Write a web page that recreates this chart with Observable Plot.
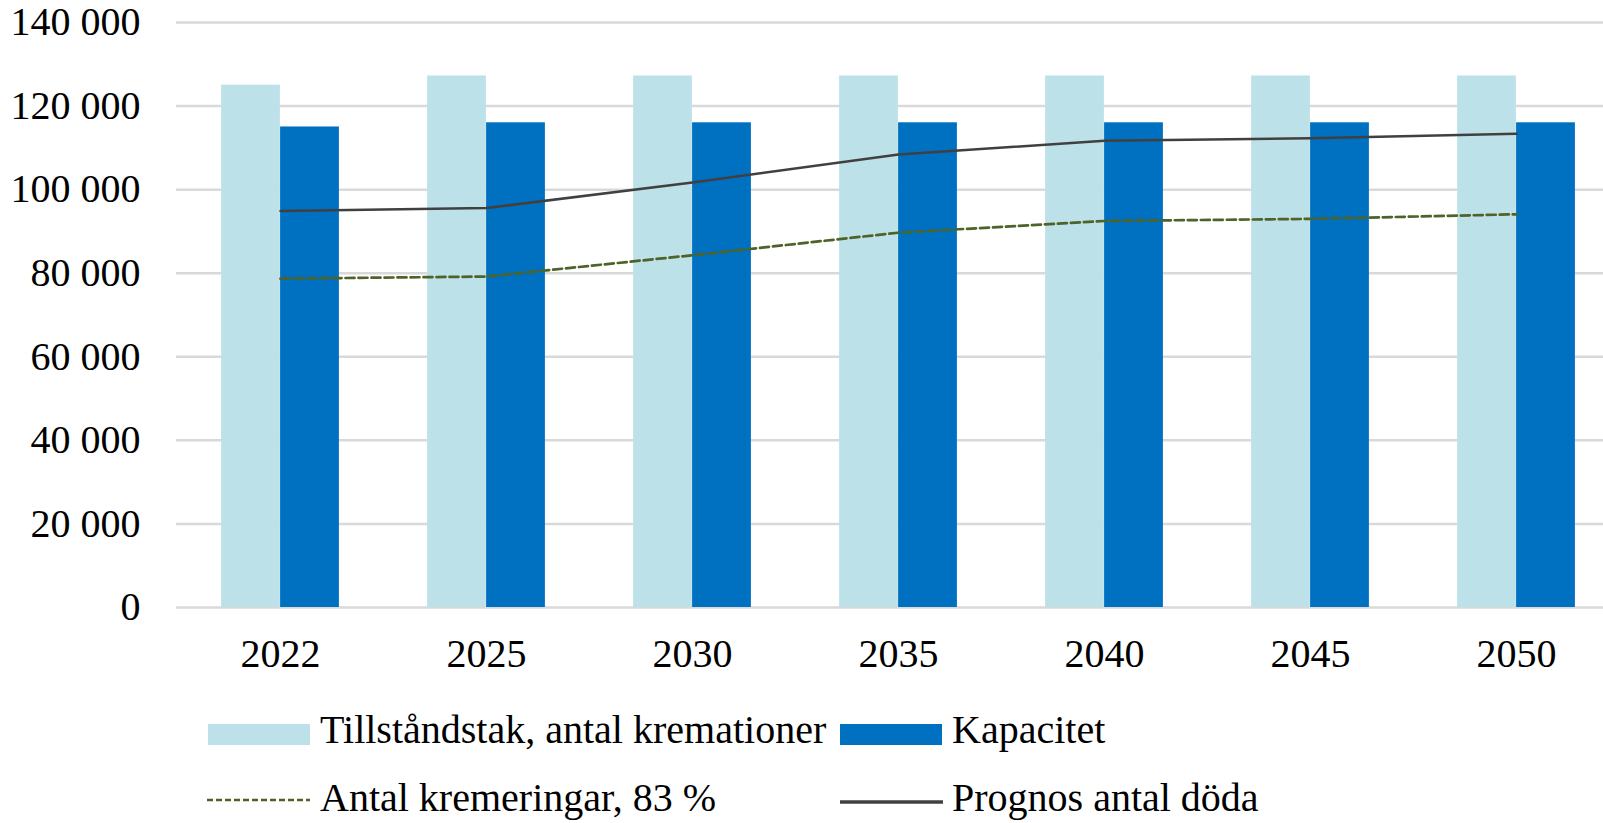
<!DOCTYPE html>
<html>
<head>
<meta charset="utf-8">
<script src="https://cdn.jsdelivr.net/npm/d3@7"></script>
<script src="https://cdn.jsdelivr.net/npm/@observablehq/plot@0.6"></script>
<style>
  html, body { margin: 0; padding: 0; background: #fff; overflow: hidden; }
  #wrap { position: relative; width: 1603px; height: 823px; font-family: "Liberation Serif", "Times New Roman", serif; color: #000; }
  .lg { position: absolute; font-size: 40px; line-height: 1; white-space: nowrap; }
  .sw { position: absolute; }
</style>
</head>
<body>
<div id="wrap"></div>
<script>
const years = ["2022", "2025", "2030", "2035", "2040", "2045", "2050"];
const tillstand = [125000, 127200, 127200, 127200, 127200, 127200, 127200];
const kapacitet = [115000, 116000, 116000, 116000, 116000, 116000, 116000];
const prognos = [94900, 95600, 101700, 108400, 111700, 112300, 113400];
const kremeringar = [78700, 79200, 84300, 89700, 92500, 93000, 94100];
const yTicks = [0, 20000, 40000, 60000, 80000, 100000, 120000, 140000];

const seriesNames = ["Tillståndstak, antal kremationer", "Kapacitet", "Antal kremeringar, 83 %", "Prognos antal döda"];
const colors = ["#bde1e9", "#0070c0", "#4f6228", "#404040"];

const rows = years.map((y, i) => ({year: y, tillstand: tillstand[i], kapacitet: kapacitet[i], prognos: prognos[i], kremeringar: kremeringar[i]}));

const fmt = d => d3.format(",")(d).replace(/,/g, " ");

const FS = 40;

const chart = Plot.plot({
  width: 1603,
  height: 700,
  marginLeft: 176,
  marginRight: 0,
  marginTop: 22,
  marginBottom: 93,
  style: {fontFamily: "'Liberation Serif', 'Times New Roman', serif", fontSize: FS + "px", color: "#000", background: "#fff"},
  x: {type: "band", domain: years, range: [175.6, 1619.4], padding: 0, label: null, tickSize: 0, tickPadding: 31},
  y: {domain: [0, 140000], ticks: yTicks, tickFormat: fmt, label: null, tickSize: 0, tickPadding: 36},
  marks: [
    Plot.gridY(yTicks, {stroke: "#d9d9d9", strokeOpacity: 1, strokeWidth: 2.5}),
    Plot.barY(rows, {x: "year", y: "tillstand", fill: colors[0], insetLeft: 44.1, insetRight: 103.1}),
    Plot.barY(rows, {x: "year", y: "kapacitet", fill: colors[1], insetLeft: 103.1, insetRight: 44.1}),
    Plot.line(rows, {x: "year", y: "kremeringar", stroke: colors[2], strokeWidth: 2.7, strokeDasharray: "9,4"}),
    Plot.line(rows, {x: "year", y: "prognos", stroke: colors[3], strokeWidth: 2.5})
  ]
});

const wrap = document.getElementById("wrap");
wrap.appendChild(chart);
chart.style.position = "absolute";
chart.style.left = "0px";
chart.style.top = "0px";
chart.style.maxWidth = "none";

function addSwatch(left, top, color) {
  const d = document.createElement("div");
  d.className = "sw";
  Object.assign(d.style, {left: left + "px", top: top + "px", width: "102px", height: "21px", background: color});
  wrap.appendChild(d);
}
function addLineSwatch(left, top, color, dash, w) {
  const ns = "http://www.w3.org/2000/svg";
  const s = document.createElementNS(ns, "svg");
  s.setAttribute("width", 104); s.setAttribute("height", 10);
  s.style.position = "absolute"; s.style.left = left + "px"; s.style.top = (top - 5) + "px";
  const l = document.createElementNS(ns, "line");
  l.setAttribute("x1", 0); l.setAttribute("x2", 103); l.setAttribute("y1", 5); l.setAttribute("y2", 5);
  l.setAttribute("stroke", color); l.setAttribute("stroke-width", w);
  if (dash) l.setAttribute("stroke-dasharray", dash);
  s.appendChild(l);
  wrap.appendChild(s);
}
function addText(left, baseline, txt) {
  const d = document.createElement("div");
  d.className = "lg";
  d.textContent = txt;
  // line-height 1 => baseline approx at top + 0.891em for Liberation Serif
  Object.assign(d.style, {left: left + "px", top: (baseline - 0.891 * FS) + "px"});
  wrap.appendChild(d);
}

addSwatch(207.5, 724, colors[0]);
addText(320, 746, seriesNames[0]);
addSwatch(839.5, 723.5, colors[1]);
addText(952, 746, seriesNames[1]);
addLineSwatch(207, 800, colors[2], "6,3", 2.7);
addText(320, 813.3, seriesNames[2]);
addLineSwatch(839.5, 802, colors[3], null, 3.3);
addText(952, 813.3, seriesNames[3]);
</script>
</body>
</html>
